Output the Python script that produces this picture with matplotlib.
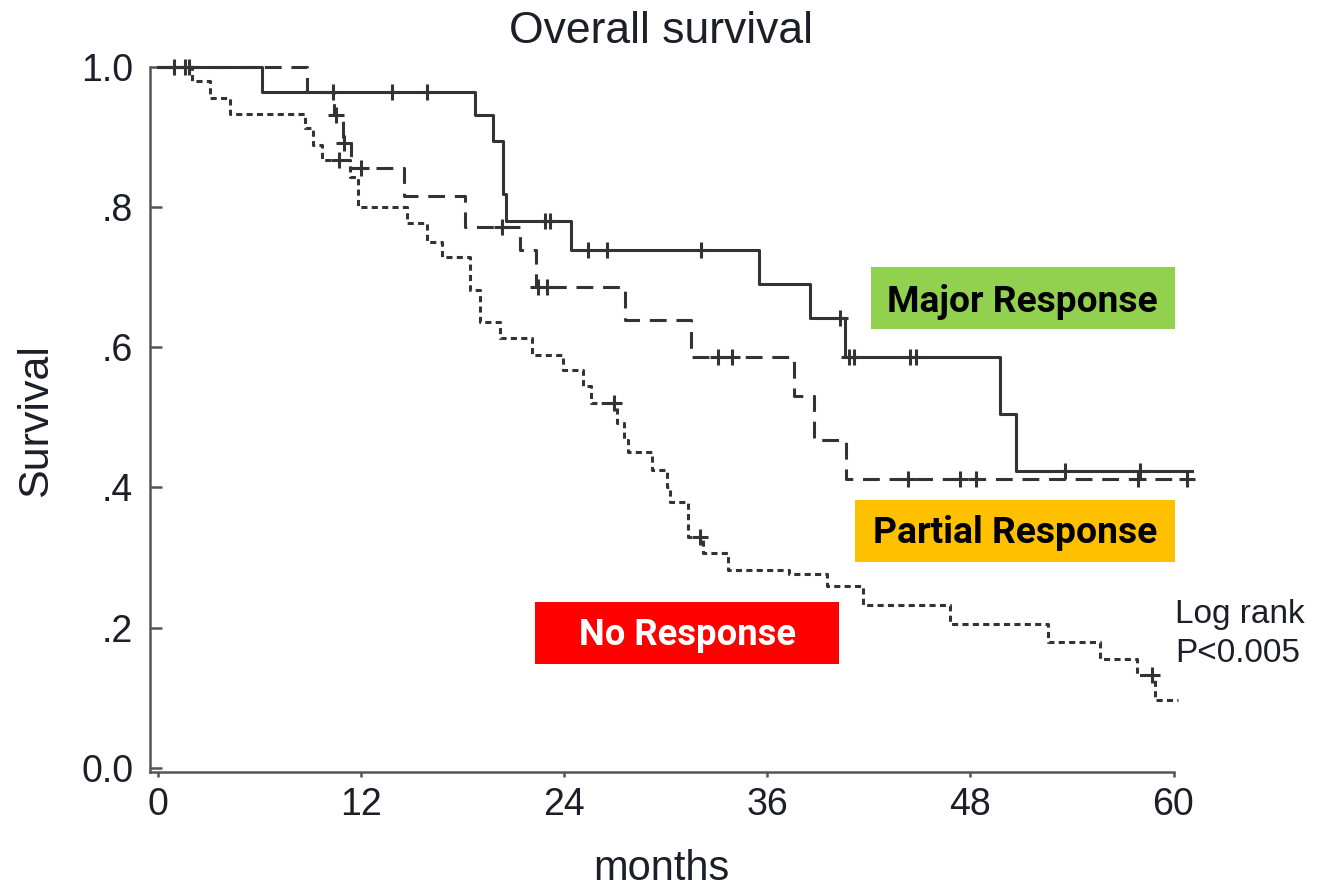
import numpy as np
import matplotlib
matplotlib.use("Agg")
import matplotlib.pyplot as plt
from matplotlib.patches import Rectangle

# Kaplan-Meier step curves (months, survival)
major_t = [0, 6.1, 18.7, 19.8, 20.4, 20.55, 24.4, 35.5, 38.5, 40.6, 49.75, 50.7, 61.1]
major_s = [1.0, 0.964, 0.931, 0.894, 0.819, 0.780, 0.739, 0.690, 0.641, 0.586, 0.505, 0.423, 0.423]
major_cens = [0.9, 1.6, 10.3, 13.8, 15.9, 22.85, 23.15, 25.4, 26.5, 32.1, 40.3, 40.8, 41.1,
              44.4, 44.8, 53.6, 58.0]

partial_t = [0, 8.8, 10.4, 10.9, 11.4, 14.5, 18.1, 21.4, 22.35, 27.6, 31.5, 37.6, 38.75, 40.65, 60.8]
partial_s = [1.0, 0.964, 0.931, 0.891, 0.856, 0.815, 0.771, 0.739, 0.686, 0.639, 0.586, 0.530,
             0.468, 0.412, 0.412]
partial_cens = [10.5, 11.0, 12.0, 20.3, 22.45, 23.0, 33.1, 33.9, 44.3, 47.4, 48.3, 57.9, 60.8]

nr_t = [0, 1.97, 3.06, 4.24, 8.67, 9.16, 9.66, 11.33, 11.82, 14.68, 15.86, 16.75, 18.42, 19.0,
        20.2, 22.07, 23.94, 25.1, 25.6, 27.1, 27.55, 27.75, 29.16, 30.05, 30.24, 31.32, 32.21,
        33.69, 37.3, 39.5, 41.67, 46.8, 52.6, 55.66, 57.83, 58.9, 60.25]
nr_s = [1.0, 0.979, 0.955, 0.933, 0.912, 0.888, 0.867, 0.843, 0.800, 0.777, 0.750, 0.729, 0.682,
        0.636, 0.613, 0.589, 0.568, 0.544, 0.520, 0.492, 0.468, 0.451, 0.425, 0.401, 0.380, 0.330,
        0.306, 0.282, 0.277, 0.259, 0.232, 0.205, 0.180, 0.155, 0.133, 0.097, 0.097]
nr_cens = [1.8, 10.7, 26.95, 32.0, 58.75]

x_ticks = [0, 12, 24, 36, 48, 60]
y_ticks = [0.0, 0.2, 0.4, 0.6, 0.8, 1.0]
y_tick_labels = ["0.0", ".2", ".4", ".6", ".8", "1.0"]

W, H = 1319, 892
LINE = "#333333"
TXT = "#1e1e28"
plt.rcParams["font.family"] = ["Liberation Sans", "DejaVu Sans"]


def fx(px):
    return px / W


def fy(py):
    return 1 - py / H


def surv_at(t, s, c):
    idx = np.searchsorted(t, c, side="right") - 1
    return np.array(s)[idx]


fig = plt.figure(figsize=(W / 100, H / 100), dpi=100)
ppm = 16.92  # pixels per month
ppu = 701.3  # pixels per survival unit
xmin, xmax = -0.49, 61.5
ymin, ymax = -0.005, 1.02
left_px = 158.3 + xmin * ppm
bottom_py = 768 - ymin * ppu
ax = fig.add_axes([fx(left_px), fy(bottom_py), (xmax - xmin) * ppm / W, (ymax - ymin) * ppu / H])
ax.set_xlim(xmin, xmax)
ax.set_ylim(ymin, ymax)

curves = [
    (major_t, major_s, major_cens, "-"),
    (partial_t, partial_s, partial_cens, (0, (5.5, 3.2))),
    (nr_t, nr_s, nr_cens, (0, (2.0, 1.4))),
]
for t, s, cens, ls in curves:
    ax.step(t, s, where="post", color=LINE, lw=2.2, linestyle=ls, dash_capstyle="butt",
            clip_on=False)
    ax.plot(cens, surv_at(t, s, cens), linestyle="none", marker="+", markersize=12,
            markeredgewidth=2.2, color=LINE, clip_on=False)

for side in ["top", "right"]:
    ax.spines[side].set_visible(False)
for side in ["left", "bottom"]:
    ax.spines[side].set_color("#555555")
    ax.spines[side].set_linewidth(1.8)
ax.spines["bottom"].set_bounds(xmin, 60)
ax.spines["left"].set_bounds(ymin, 1.0)

ax.set_xticks(x_ticks)
ax.set_xticklabels([str(v) for v in x_ticks])
ax.set_yticks(y_ticks)
ax.set_yticklabels(y_tick_labels)
ax.tick_params(axis="y", direction="in", length=8.5, width=1.8, color="#555555",
               labelsize=27, pad=12, labelcolor=TXT)
ax.tick_params(axis="x", direction="out", length=3.5, width=1.8, color="#555555",
               labelsize=27, pad=8, labelcolor=TXT)

fig.text(fx(661), fy(43), "Overall survival", ha="center", va="baseline", fontsize=32, color=TXT)
fig.text(fx(661), fy(880), "months", ha="center", va="baseline", fontsize=30, color=TXT)
fig.text(fx(36), fy(421), "Survival", ha="center", va="center", rotation=90, fontsize=31, color=TXT)
fig.text(fx(1175), fy(623), "Log rank", ha="left", va="baseline", fontsize=24, color=TXT)
fig.text(fx(1175), fy(661.7), "P<0.005", ha="left", va="baseline", fontsize=24, color=TXT)

# coloured response labels
renderer = fig.canvas.get_renderer()
boxes = [
    ("Major Response", "#92D050", "black", (870.7, 266.7, 1175, 329), 1022, 311.7, 271),
    ("Partial Response", "#FFC000", "black", (855, 500, 1175, 561.7), 1015, 543.3, 284),
    ("No Response", "#FF0000", "white", (535, 602, 839, 663.7), 687.5, 645, 217),
]
for label, fc, tc, (x0, y0, x1, y1), cx, base, width_px in boxes:
    fig.patches.append(Rectangle((fx(x0), fy(y1)), (x1 - x0) / W, (y1 - y0) / H,
                                 transform=fig.transFigure, facecolor=fc, edgecolor="none",
                                 zorder=3))
    t = fig.text(fx(cx), fy(base), label, ha="center", va="baseline", fontsize=22,
                 fontweight="bold", color=tc, family=["Roboto", "DejaVu Sans"], zorder=4)
    bb = t.get_window_extent(renderer)
    t.set_fontsize(22 * width_px / bb.width)

fig.savefig("out.png", dpi=100)
